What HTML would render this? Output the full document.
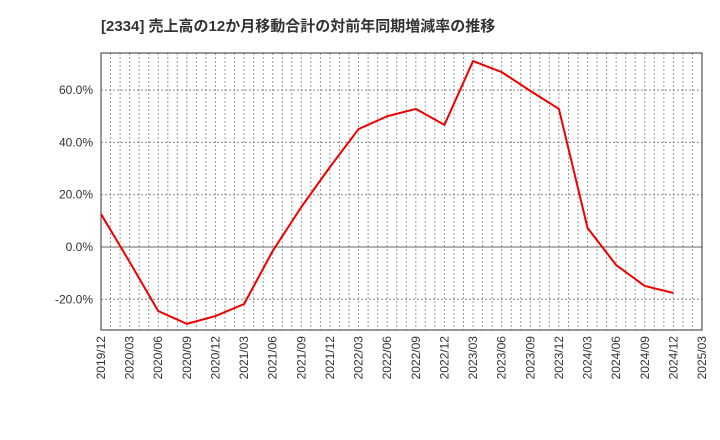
<!DOCTYPE html>
<html><head><meta charset="utf-8"><style>
body{margin:0;background:#fff;}
svg{display:block;font-family:"Liberation Sans","Noto Sans CJK JP",sans-serif;}
</style></head><body>
<svg id="chart" width="720" height="440">
<text x="101" y="31" font-size="15" font-weight="bold" fill="#333">[2334]  売上高の12か月移動合計の対前年同期増減率の推移</text>
<g id="grid"></g>
<g id="axes"></g>
<g id="series"></g>
</svg>
<script>
const categories=["2019/12","2020/03","2020/06","2020/09","2020/12","2021/03","2021/06","2021/09","2021/12","2022/03","2022/06","2022/09","2022/12","2023/03","2023/06","2023/09","2023/12","2024/03","2024/06","2024/09","2024/12","2025/03"];
const values=[12.6,-5.7,-24.5,-29.4,-26.4,-21.8,-1.5,15.3,30.6,45.1,50.0,52.8,46.7,71.1,66.9,59.7,52.8,7.3,-6.9,-14.9,-17.6];
const yTicks=[-20,0,20,40,60];
const L=101,R=702,T=53,B=330;
const y0=247,pxPer=2.615;
const ns="http://www.w3.org/2000/svg";
function X(i){return L+(R-L)*i/(categories.length-1);}
function Y(v){return y0-v*pxPer;}
function mk(tag,attrs,parent){const e=document.createElementNS(ns,tag);for(const k in attrs)e.setAttribute(k,attrs[k]);parent.appendChild(e);return e;}
const grid=document.getElementById('grid'),axes=document.getElementById('axes'),series=document.getElementById('series');
const nMonths=(categories.length-1)*3;
for(let m=1;m<nMonths;m++){
  const x=L+(R-L)*m/nMonths;
  const l=mk('line',{x1:x,x2:x,y1:T,y2:B,stroke:'#999','stroke-dasharray':'2,2','stroke-width':1},grid);
  
  
}
yTicks.forEach(v=>{
  const y=Y(v);
  const l=mk('line',{x1:L,x2:R,y1:y,y2:y,stroke:v===0?'#666':'#888','stroke-dasharray':v===0?'none':'2,2','stroke-width':1},grid);
  
  
  const t=mk('text',{x:L-8,y:y+4,'text-anchor':'end','font-size':12,fill:'#333'},axes);
  t.textContent=v.toFixed(1)+'%';
  
  
});
const frame=mk('rect',{x:L,y:T,width:R-L,height:B-T,fill:'none',stroke:'#333','stroke-width':1},axes);


categories.forEach((c,i)=>{
  const x=X(i);
  const t=mk('text',{transform:`translate(${x+4},${B+6}) rotate(-90)`,'text-anchor':'end','font-size':12,fill:'#333'},axes);
  t.textContent=c;
  
  
});
const pts=values.map((v,i)=>X(i)+','+Y(v)).join(' ');
const pl=mk('polyline',{points:pts,fill:'none',stroke:'#e00','stroke-width':2,'stroke-linejoin':'round'},series);


</script>
</body></html>
